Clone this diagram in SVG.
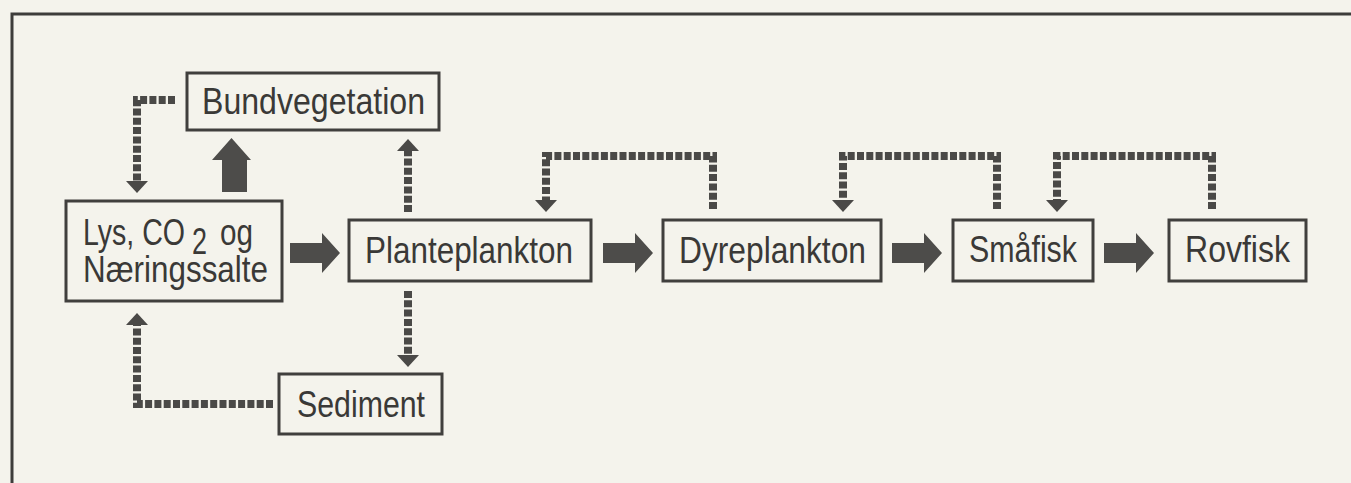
<svg xmlns="http://www.w3.org/2000/svg" width="1351" height="483" viewBox="0 0 1351 483">
<style>
.bg{fill:#f4f3ec}
.frame{fill:none;stroke:#3d3c3a;stroke-width:3}
.box{fill:none;stroke:#403f3d;stroke-width:3}
.lbl{font-family:"Liberation Sans",Arial,sans-serif;font-size:36px;fill:#3a3937}
.dot{fill:none;stroke:#4a4947;stroke-width:8;stroke-dasharray:7 2.3;marker-end:url(#head)}
.solid{fill:#4d4c4a}
</style>
<defs>
<marker id="head" markerUnits="userSpaceOnUse" viewBox="0 0 12 22" refX="0" refY="11" markerWidth="12" markerHeight="22" orient="auto">
<path d="M0,0 L12,11 L0,22 Z" fill="#4a4947"/>
</marker>
<path id="bigArrow" d="M0,-10 H32 V-20 L50,0 L32,20 V10 H0 Z"/>
</defs>
<rect class="bg" x="0" y="0" width="1351" height="483"/>
<path class="frame" d="M12,483 V14 H1351"/>

<g id="connectors">
<path class="dot" d="M175,100 H137 V181"/>
<path class="dot" d="M408,212 V151"/>
<path class="dot" d="M408,291 V355"/>
<path class="dot" d="M273,404 H137 V325"/>
<path class="dot" d="M713,209 V156 H546 V200"/>
<path class="dot" d="M997,209 V156 H843 V200"/>
<path class="dot" d="M1212,209 V156 H1057 V200"/>
<path class="solid" d="M222,192 V160 H212 L231.5,138 L251,160 H247 V192 Z"/>
<use class="solid" href="#bigArrow" transform="translate(290,253)"/>
<use class="solid" href="#bigArrow" transform="translate(603,253)"/>
<use class="solid" href="#bigArrow" transform="translate(892,253)"/>
<use class="solid" href="#bigArrow" transform="translate(1104,253)"/>
</g>

<g id="bundvegetation">
<rect class="box" x="187" y="73" width="252" height="57"/>
<text class="lbl" x="202" y="114" textLength="223" lengthAdjust="spacingAndGlyphs">Bundvegetation</text>
</g>
<g id="lys">
<rect class="box" x="66" y="201" width="216" height="100"/>
<text class="lbl" y="245"><tspan x="83" textLength="102" lengthAdjust="spacingAndGlyphs">Lys, CO</tspan><tspan x="192" dy="9" textLength="15" lengthAdjust="spacingAndGlyphs">2</tspan><tspan x="220" dy="-9" textLength="33" lengthAdjust="spacingAndGlyphs">og</tspan></text>
<text class="lbl" x="83" y="282" textLength="185" lengthAdjust="spacingAndGlyphs">Næringssalte</text>
</g>
<g id="planteplankton">
<rect class="box" x="349" y="220" width="242" height="61"/>
<text class="lbl" x="365" y="263" textLength="208" lengthAdjust="spacingAndGlyphs">Planteplankton</text>
</g>
<g id="sediment">
<rect class="box" x="279" y="374" width="163" height="60"/>
<text class="lbl" x="297" y="417" textLength="128" lengthAdjust="spacingAndGlyphs">Sediment</text>
</g>
<g id="dyreplankton">
<rect class="box" x="663" y="220" width="218" height="61"/>
<text class="lbl" x="679" y="263" textLength="187" lengthAdjust="spacingAndGlyphs">Dyreplankton</text>
</g>
<g id="smaafisk">
<rect class="box" x="953" y="220" width="140" height="61"/>
<text class="lbl" x="969" y="262" textLength="108" lengthAdjust="spacingAndGlyphs">Småfisk</text>
</g>
<g id="rovfisk">
<rect class="box" x="1169" y="220" width="137" height="61"/>
<text class="lbl" x="1185" y="262" textLength="105" lengthAdjust="spacingAndGlyphs">Rovfisk</text>
</g>
</svg>
